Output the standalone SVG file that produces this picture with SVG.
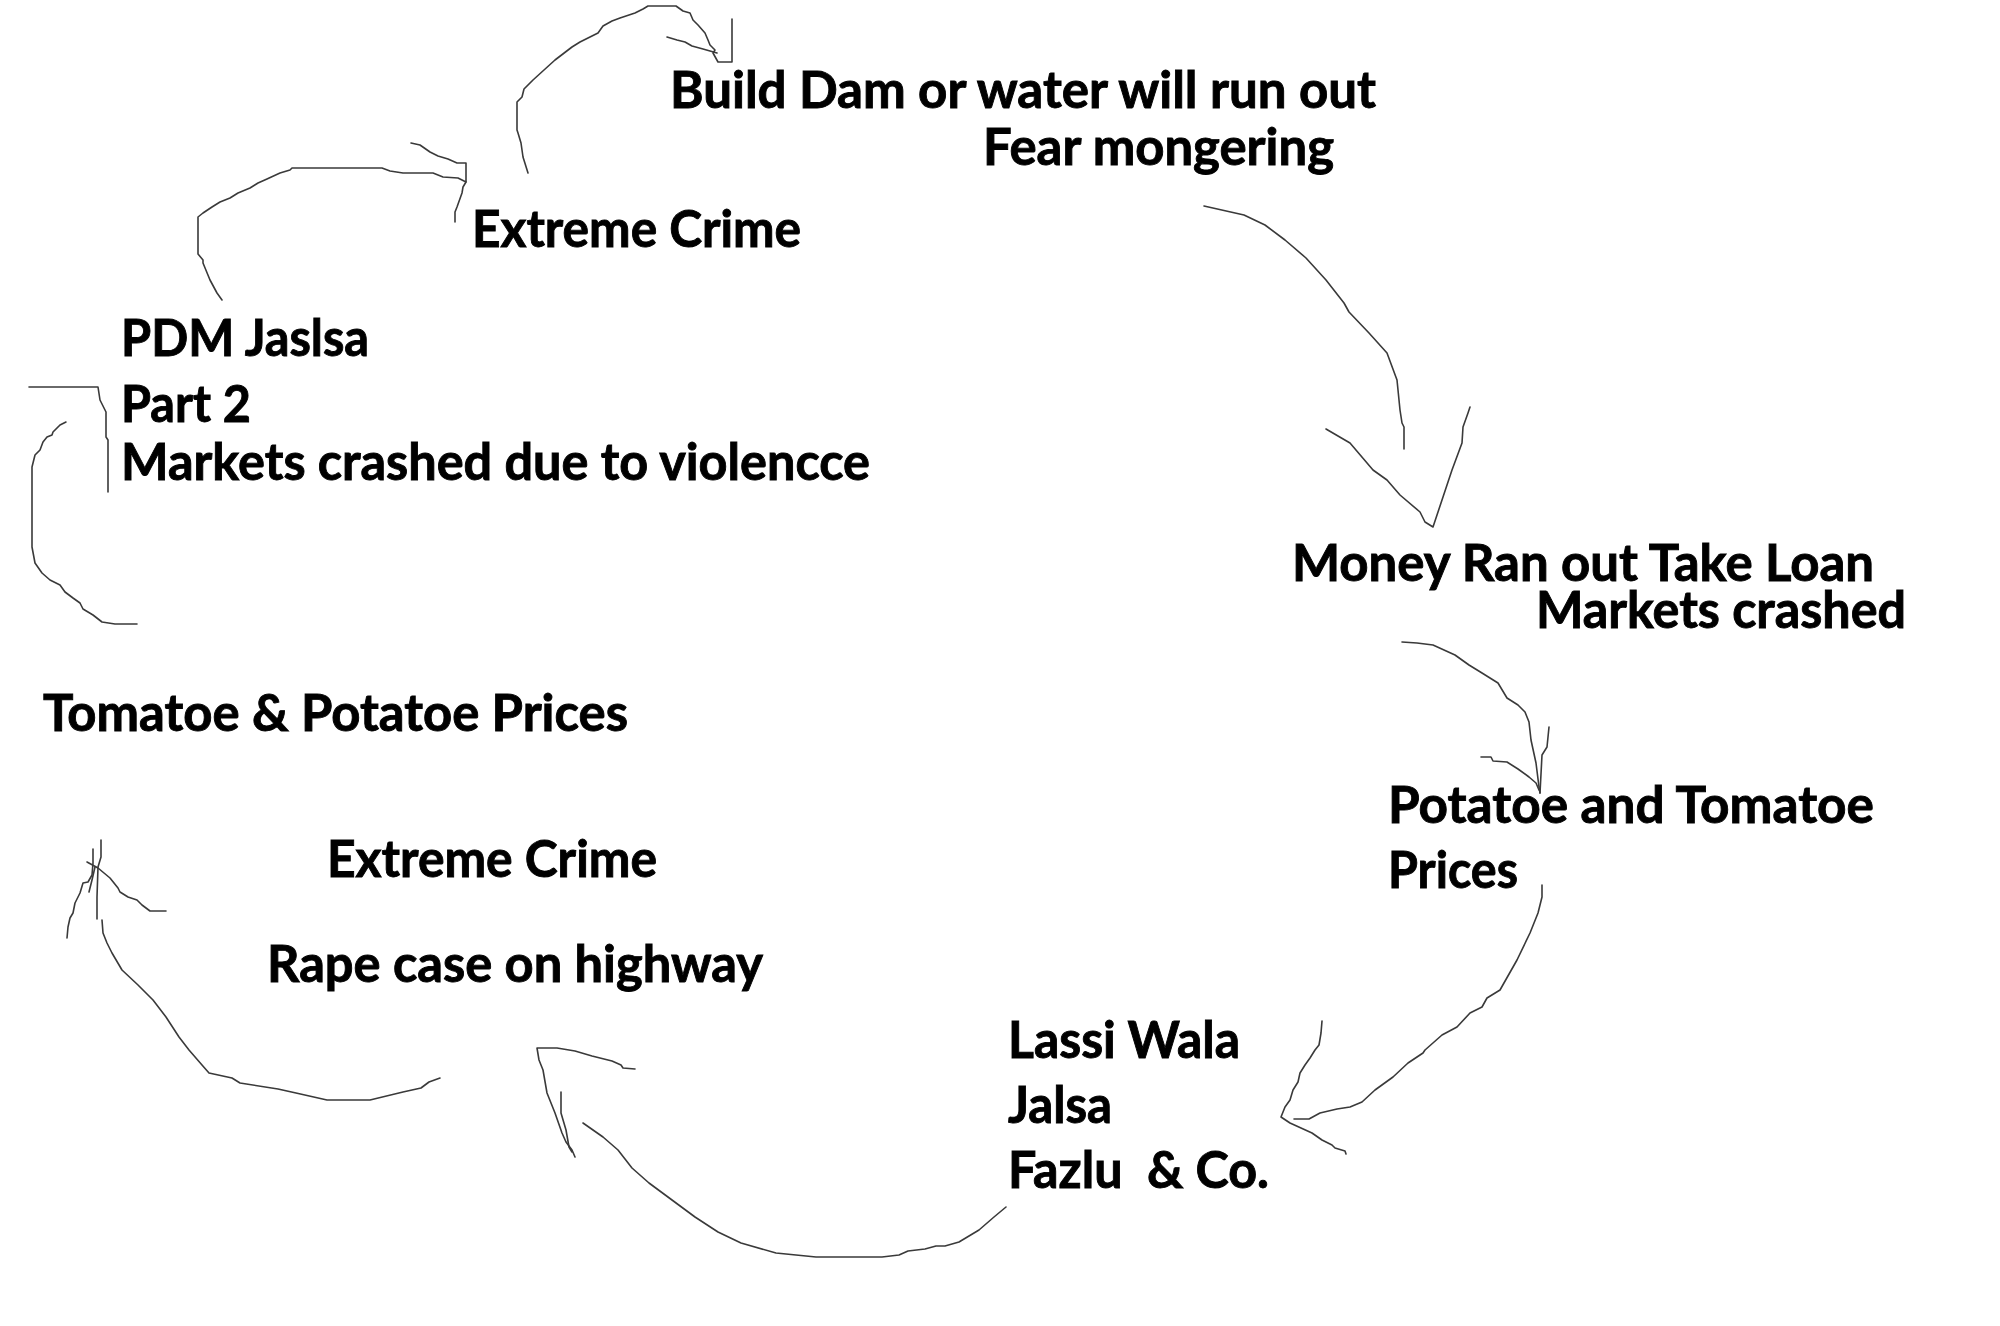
<svg xmlns="http://www.w3.org/2000/svg" width="2000" height="1326" viewBox="0 0 2000 1326">
<style>
.t{font-family:Lato,"Open Sans","Liberation Sans",sans-serif;font-weight:700;font-size:51px;fill:#000;stroke:#000;stroke-width:0.9px;white-space:pre}
.c{fill:none;stroke:#3a3a3a;stroke-width:1.6;stroke-linejoin:round;stroke-linecap:round}
</style>
<rect width="2000" height="1326" fill="#fff"/>
<g id="connectors">
<!-- Extreme Crime (top) -> Build Dam -->
<polyline class="c" points="528,173 523,157 521,143 518,133 517,130 517,102 522,97 524,89 533,80 555,60 572,47 580,42 598,33 603,26 612,21 620,18 635,13 643,9 648,6 676,6 683,11 690,13 693,20 698,25 705,33 708,40 710,45 715,50 713,53 718,62 732,62 732,19"/>
<polyline class="c" points="667,37 677,40 685,42 692,46 703,49 710,51 717,53"/>
<!-- PDM -> Extreme Crime (top) -->
<polyline class="c" points="222,300 217,293 210,280 203,263 203,260 198,254 198,217 203,213 212,207 220,202 230,198 238,193 250,188 258,183 267,179 280,173 290,170 292,168 382,168 390,171 403,173 433,173 443,177 458,178 466,182 466,163 457,163 448,159 438,156 430,152 420,145 411,143"/>
<polyline class="c" points="466,182 463,187 462,193 457,207 455,212 455,222"/>
<!-- Fear mongering -> Money Ran out -->
<polyline class="c" points="1204,206 1244,215 1265,225 1285,240 1306,258 1326,280 1344,303 1349,312 1369,333 1387,353 1397,380 1400,410 1402,423 1404,427 1404,449"/>
<polyline class="c" points="1326,429 1350,443 1373,470 1387,480 1400,495 1420,512 1425,522 1433,527 1443,497 1452,470 1462,443 1463,427 1468,413 1470,407"/>
<!-- Money -> Potatoe and Tomatoe -->
<polyline class="c" points="1402,642 1417,643 1433,645 1455,655 1469,665 1482,673 1498,683 1507,698 1518,705 1525,712 1529,722 1531,740 1536,763 1539,787 1540,793"/>
<polyline class="c" points="1549,727 1547,747 1542,755 1540,793"/>
<polyline class="c" points="1481,757 1491,757 1493,761 1507,762 1518,769 1529,777 1536,783 1539,790"/>
<!-- Prices -> Lassi Wala -->
<polyline class="c" points="1542,885 1542,897 1538,913 1530,933 1517,960 1500,990 1487,998 1482,1007 1470,1013 1457,1027 1442,1035 1425,1050 1423,1053 1408,1063 1393,1077 1375,1090 1362,1102 1350,1107 1337,1109 1320,1113 1309,1119 1294,1119"/>
<polyline class="c" points="1322,1021 1321,1033 1319,1045 1315,1050 1310,1058 1305,1065 1300,1073 1298,1082 1293,1090 1290,1100 1285,1107 1281,1117 1290,1123 1312,1133 1322,1140 1332,1145 1335,1148 1345,1151 1346,1154"/>
<!-- Lassi -> Rape case -->
<polyline class="c" points="1006,1207 994,1217 979,1230 959,1242 945,1246 936,1246 925,1249 908,1251 899,1255 882,1257 816,1257 776,1253 741,1243 718,1232 695,1217 672,1200 649,1183 632,1168 618,1150 603,1137 583,1123"/>
<polyline class="c" points="635,1069 623,1068 621,1065 612,1061 592,1056 575,1051 557,1048 537,1048 539,1060 543,1070 547,1093 555,1113 562,1133 566,1142 572,1150 575,1157"/>
<polyline class="c" points="561,1092 561,1113 566,1130 569,1147 572,1152"/>
<!-- Rape case -> Tomatoe & Potatoe -->
<polyline class="c" points="440,1078 429,1082 421,1088 403,1092 370,1100 327,1100 296,1093 278,1089 240,1083 232,1078 209,1073 202,1065 189,1050 179,1037 166,1017 153,1000 138,985 122,970 112,953 107,943 103,933 102,920"/>
<polyline class="c" points="101,840 101,857 98,867 97,897 97,919"/>
<polyline class="c" points="93,849 93,863 92,875 88,882 83,883 80,893 75,903 73,913 70,918 68,927 67,938"/>
<polyline class="c" points="95,867 92,880 89,892"/>
<polyline class="c" points="87,862 98,868 110,878 118,888 120,892 128,897 137,900 142,905 150,911 166,911"/>
<!-- Tomatoe & Potatoe -> PDM -->
<polyline class="c" points="137,624 115,624 102,622 93,615 83,609 80,603 73,598 65,592 60,585 50,580 42,573 35,563 32,547 32,467 35,455 40,450 43,442 47,437 52,435 53,432 60,425 66,422"/>
<polyline class="c" points="29,387 98,387 100,400 106,412 106,437 108,440 108,492"/>
</g>
<g id="node-build-dam">
<text class="t" x="670" y="108" textLength="706" lengthAdjust="spacingAndGlyphs">Build Dam or water will run out</text>
<text class="t" x="983" y="165" textLength="351" lengthAdjust="spacingAndGlyphs">Fear mongering</text>
</g>
<g id="node-extreme-crime-top">
<text class="t" x="472" y="247" textLength="329" lengthAdjust="spacingAndGlyphs">Extreme Crime</text>
</g>
<g id="node-pdm-jalsa">
<text class="t" x="121" y="356" textLength="248" lengthAdjust="spacingAndGlyphs">PDM Jaslsa</text>
<text class="t" x="121" y="422" textLength="130" lengthAdjust="spacingAndGlyphs">Part 2</text>
<text class="t" x="121" y="480" textLength="749" lengthAdjust="spacingAndGlyphs">Markets crashed due to violencce</text>
</g>
<g id="node-money">
<text class="t" x="1292" y="581" textLength="582" lengthAdjust="spacingAndGlyphs">Money Ran out Take Loan</text>
<text class="t" x="1536" y="628" textLength="370" lengthAdjust="spacingAndGlyphs">Markets crashed</text>
</g>
<g id="node-potatoe-tomatoe">
<text class="t" x="1388" y="823" textLength="486" lengthAdjust="spacingAndGlyphs">Potatoe and Tomatoe</text>
<text class="t" x="1388" y="888" textLength="130" lengthAdjust="spacingAndGlyphs">Prices</text>
</g>
<g id="node-tomatoe-potatoe">
<text class="t" x="43" y="731" textLength="585" lengthAdjust="spacingAndGlyphs">Tomatoe &amp; Potatoe Prices</text>
</g>
<g id="node-extreme-crime-bottom">
<text class="t" x="327" y="877" textLength="330" lengthAdjust="spacingAndGlyphs">Extreme Crime</text>
<text class="t" x="267" y="982" textLength="496" lengthAdjust="spacingAndGlyphs">Rape case on highway</text>
</g>
<g id="node-lassi-wala">
<text class="t" x="1008" y="1058" textLength="232" lengthAdjust="spacingAndGlyphs">Lassi Wala</text>
<text class="t" x="1008" y="1123" textLength="104" lengthAdjust="spacingAndGlyphs">Jalsa</text>
<text class="t" x="1008" y="1188" textLength="261" lengthAdjust="spacingAndGlyphs" xml:space="preserve">Fazlu  &amp; Co.</text>
</g>
</svg>
